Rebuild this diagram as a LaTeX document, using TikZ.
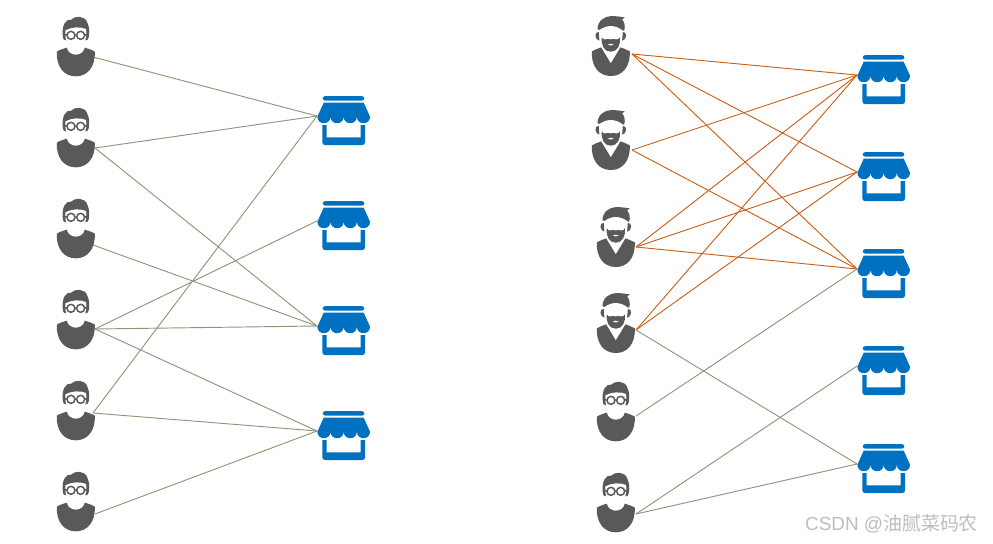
\documentclass[tikz,border=0pt]{standalone}
\usepackage{fontspec}
\setmainfont{Liberation Sans}
\newfontfamily\cjkfont{Noto Sans CJK SC}
\definecolor{iconGray}{HTML}{595959}
\definecolor{shopBlue}{HTML}{0070C0}
\definecolor{linkOlive}{HTML}{8F9678}
\definecolor{linkOrange}{HTML}{C9601A}
\definecolor{markGray}{HTML}{BDBDBD}
\tikzset{
  olive/.style={draw=linkOlive,line width=0.7pt},
  orange/.style={draw=linkOrange,line width=0.7pt},
  geek/.pic={
    \begin{scope}[scale=1/3]
      \fill[iconGray] (-57,14) .. controls (-48,8) and (-36,5) .. (-27,2)
        .. controls (-22,30) and (22,30) .. (27,2)
        .. controls (36,5) and (48,8) .. (57,14)
        .. controls (59,60) and (35,88) .. (0,88)
        .. controls (-35,88) and (-59,60) .. (-57,14) -- cycle;
      \fill[iconGray] (-39,-32) .. controls (-43,-65) and (-30,-85) .. (-14,-82)
        .. controls (-4,-94) and (28,-96) .. (35,-72)
        .. controls (40,-60) and (42,-48) .. (39,-30)
        .. controls (38,-22) and (34,-20) .. (30,-20) -- (-30,-20)
        .. controls (-34,-20) and (-38,-22) .. (-39,-32) -- cycle;
      \fill[white] (-31,-50) .. controls (-12,-60) and (12,-62) .. (31,-54)
        .. controls (34,-25) and (24,10) .. (0,12)
        .. controls (-24,10) and (-34,-25) .. (-31,-50) -- cycle;
      \draw[iconGray,line width=1.1pt] (-14.5,-35) circle (12) (14.5,-35) circle (12)
        (-2.5,-36) -- (2.5,-36) (-26.5,-37) -- (-33,-36) (26.5,-37) -- (33,-36);
    \end{scope}
  },
  beard/.pic={
    \begin{scope}[scale=1/3]
      \fill[iconGray] (-57,14) .. controls (-48,8) and (-36,5) .. (-29,2)
        -- (0,50) -- (29,2)
        .. controls (36,5) and (48,8) .. (57,14)
        .. controls (59,60) and (35,88) .. (0,88)
        .. controls (-35,88) and (-59,60) .. (-57,14) -- cycle;
      \fill[iconGray] (-40,-52) .. controls (-40,-78) and (-18,-92) .. (2,-92)
        .. controls (14,-92) and (28,-90) .. (42,-88) -- (34,-82)
        .. controls (42,-72) and (44,-60) .. (40,-48) -- (30,-50)
        .. controls (12,-62) and (-12,-62) .. (-30,-50) -- cycle;
      \fill[iconGray] (-36,-44) .. controls (-42,-46) and (-46,-40) .. (-46,-33)
        .. controls (-46,-26) and (-40,-18) .. (-34,-18) -- cycle;
      \fill[iconGray] (36,-44) .. controls (42,-46) and (46,-40) .. (46,-33)
        .. controls (46,-26) and (40,-18) .. (34,-18) -- cycle;
      \fill[white] (-34,-50) .. controls (-12,-66) and (12,-66) .. (34,-50)
        -- (33,-18) -- (-33,-18) -- cycle;
      \fill[iconGray] (-27,-28) .. controls (-22,-16) and (-12,-26) .. (0,-22)
        .. controls (12,-26) and (22,-16) .. (27,-28)
        .. controls (30,-5) and (20,15) .. (0,15)
        .. controls (-20,15) and (-30,-5) .. (-27,-28) -- cycle;
      \fill[white] (-9,-6) .. controls (-4,-10) and (4,-10) .. (9,-6)
        .. controls (4,-3) and (-4,-3) .. (-9,-6) -- cycle;
    \end{scope}
  },
  shop/.pic={
    \begin{scope}[scale=1/3]
      \fill[shopBlue,rounded corners=2pt] (-63,-62) rectangle (62,-48);
      \fill[shopBlue] (-60,-42) -- (60,-42) -- (79,0)
        .. controls (79,26) and (40,26) .. (39.5,0)
        .. controls (39,26) and (0.5,26) .. (0,0)
        .. controls (-0.5,26) and (-39,26) .. (-39.5,0)
        .. controls (-40,26) and (-79,26) .. (-79,0) -- cycle;
      \fill[shopBlue] (-64,25) -- (-51,25) -- (-51,62) -- (51,62) -- (51,25) -- (64,25)
        [rounded corners=2pt] -- (64,85) -- (-64,85) [sharp corners] -- cycle;
    \end{scope}
  }
}
\begin{document}
\begin{tikzpicture}[x=0.75pt,y=-0.75pt]
\useasboundingbox (0,0) rectangle (993,543);
% ports
\coordinate (u1) at (93,57);
\coordinate (u2) at (95,148);
\coordinate (u3) at (93,245);
\coordinate (u4) at (95,329);
\coordinate (u5) at (93,413);
\coordinate (u6) at (95,514);
\coordinate (s1) at (317,116);
\coordinate (s2) at (317,221);
\coordinate (s3) at (317,326);
\coordinate (s4) at (317,431);
\coordinate (b1) at (632,54);
\coordinate (b2) at (632,150);
\coordinate (b3) at (636,247);
\coordinate (b4) at (636,330);
\coordinate (g5) at (636,416);
\coordinate (g6) at (636,514);
\coordinate (t1) at (857,75);
\coordinate (t2) at (857,172);
\coordinate (t3) at (857,269);
\coordinate (t4) at (857,366);
\coordinate (t5) at (857,464);
% connectors left
\foreach \a/\b in {u1/s1,u2/s1,u2/s3,u3/s3,u4/s2,u4/s3,u4/s4,u5/s1,u5/s4,u6/s4}
  \draw[olive] (\a) -- (\b);
% connectors right
\foreach \a/\b in {b1/t1,b1/t2,b1/t3,b2/t1,b2/t3,b3/t1,b3/t2,b3/t3,b4/t1,b4/t2}
  \draw[orange] (\a) -- (\b);
\foreach \a/\b in {b4/t5,g5/t3,g6/t4,g6/t5}
  \draw[olive] (\a) -- (\b);
% people left
\foreach \y in {47,138,229,320,411,502}
  \pic at (75.8,\y) {geek};
% people right
\pic at (610.8,46.7) {beard};
\pic at (610.8,140.7) {beard};
\pic at (615.8,237.7) {beard};
\pic at (615.8,323.7) {beard};
\pic at (615.8,412) {geek};
\pic at (615.8,503) {geek};
% shops
\foreach \y in {116.7,221.7,326.7,431.7}
  \pic at (343.7,\y) {shop};
\foreach \y in {75.7,172.7,269.7,366.7,464.7}
  \pic at (883.7,\y) {shop};
\node[text=markGray,font=\fontsize{14.2pt}{16pt}\selectfont,anchor=center,inner sep=0pt] (mark) at (891.5,524) {CSDN @{\cjkfont 油腻菜码农}};
\end{tikzpicture}
\end{document}
